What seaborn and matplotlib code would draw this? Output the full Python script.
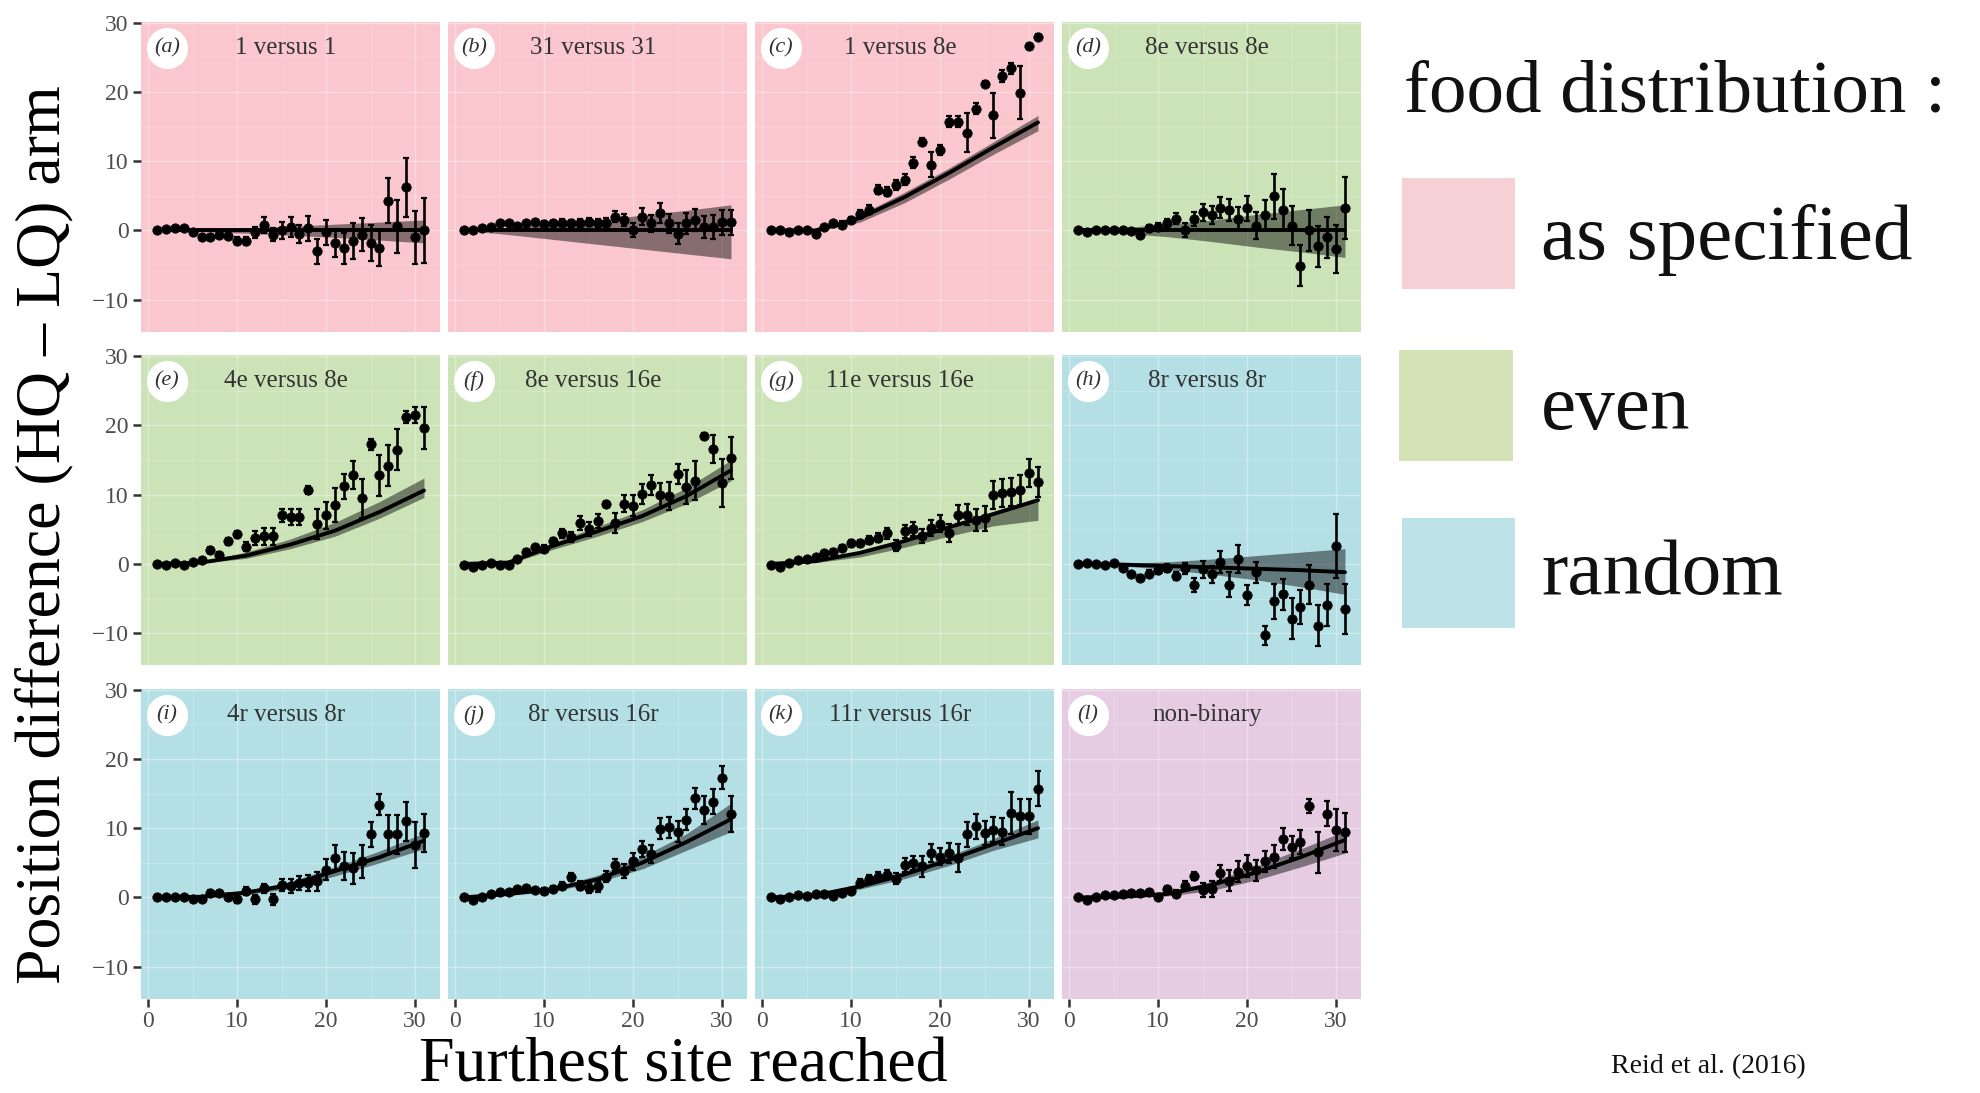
import matplotlib
matplotlib.use("Agg")
import matplotlib.pyplot as plt
from matplotlib.patches import Rectangle
import seaborn as sns

# ---------------- data ----------------
site = list(range(1, 32))            # furthest site reached (x of points)
fit_x = [1, 6, 11, 16, 21, 26, 31]  # x of model-fit knots

letters = ["a", "b", "c", "d", "e", "f", "g", "h", "i", "j", "k", "l"]
titles = ["1 versus 1", "31 versus 31", "1 versus 8e", "8e versus 8e",
          "4e versus 8e", "8e versus 16e", "11e versus 16e", "8r versus 8r",
          "4r versus 8r", "8r versus 16r", "11r versus 16r", "non-binary"]
distribution = ["as specified", "as specified", "as specified", "even",
                "even", "even", "even", "random",
                "random", "random", "random", "non-binary"]
legend_labels = ["as specified", "even", "random"]

a_mean = [0, 0.2, 0.4, 0.3, -0.3, -1.0, -1.0, -0.6, -0.8, -1.5, -1.5, -0.3, 0.8, -0.6, 0.0, 0.5,
          -0.5, 0.3, -3.0, -0.3, -1.8, -2.6, -1.5, -0.6, -1.8, -2.5, 4.3, 0.6, 6.2, -1.0, 0.0]
a_err = [0.2, 0.2, 0.2, 0.2, 0.3, 0.4, 0.4, 0.5, 0.5, 0.5, 0.6, 0.8, 1.2, 1.0, 1.2, 1.5,
         1.3, 1.8, 1.8, 1.8, 2.0, 2.2, 2.6, 2.4, 2.6, 2.6, 3.3, 3.8, 4.2, 3.8, 4.7]
a_fit = [0, 0, 0, 0, 0, 0, 0]
a_lo = [0, -0.2, -0.4, -0.7, -1.0, -1.4, -1.8]
a_hi = [0, 0.2, 0.4, 0.6, 0.9, 1.2, 1.5]

b_mean = [0, 0, 0.3, 0.5, 1.0, 1.0, 0.6, 1.0, 1.2, 0.9, 1.0, 1.1, 1.0, 1.1, 1.2, 1.0,
          1.1, 2.0, 1.5, 0.0, 2.0, 1.0, 2.5, 1.0, -0.5, 1.0, 1.5, 0.5, 0.5, 1.2, 1.2]
b_err = [0.1, 0.1, 0.2, 0.2, 0.2, 0.2, 0.3, 0.3, 0.3, 0.4, 0.4, 0.5, 0.5, 0.6, 0.6, 0.7,
         0.7, 0.8, 0.9, 1.0, 1.2, 1.2, 1.5, 1.4, 1.5, 1.5, 1.6, 1.6, 1.7, 1.8, 1.8]
b_fit = [0, 0, 0, 0, 0, 0, 0]
b_lo = [0, -0.6, -1.3, -2.0, -2.7, -3.4, -4.1]
b_hi = [0, 0.4, 0.9, 1.5, 2.2, 2.9, 3.7]

c_mean = [0, 0, -0.2, 0, 0.1, -0.5, 0.5, 1.0, 0.8, 1.5, 2.4, 3.0, 5.9, 5.6, 6.6, 7.3,
          9.8, 12.8, 9.5, 11.6, 15.7, 15.7, 14.1, 17.6, 21.2, 16.6, 22.3, 23.4, 19.9, 26.6, 28.0]
c_err = [0.2, 0.2, 0.2, 0.2, 0.2, 0.3, 0.3, 0.4, 0.5, 0.5, 0.6, 0.6, 0.6, 0.6, 0.7, 0.8,
         0.8, 0.5, 1.8, 0.7, 0.8, 0.8, 2.8, 0.8, 0.4, 3.2, 0.8, 0.8, 3.8, 0.3, 0.3]
c_fit = [0, 0, 1.8, 4.8, 8.3, 12.0, 15.6]
c_lo = [0, -0.2, 1.2, 4.0, 7.4, 11.0, 14.4]
c_hi = [0, 0.2, 2.3, 5.5, 9.0, 12.8, 16.6]

d_mean = [0, -0.3, 0, 0.1, 0, 0, -0.1, -0.6, 0.3, 0.5, 1.0, 1.7, 0.0, 1.7, 2.6, 2.2,
          3.3, 3.0, 1.7, 3.2, 0.7, 2.2, 4.9, 3.0, 0.7, -5.1, 0.0, -2.3, -1.0, -2.7, 3.2]
d_err = [0.1, 0.1, 0.2, 0.2, 0.2, 0.3, 0.3, 0.5, 0.5, 0.6, 0.7, 0.8, 1.0, 1.0, 1.2, 1.3,
         1.5, 1.6, 1.7, 1.8, 2.0, 2.2, 3.3, 3.0, 2.8, 3.0, 3.0, 3.0, 3.0, 3.5, 4.5]
d_fit = [0, 0, 0, 0, 0, 0, 0]
d_lo = [0, -0.4, -0.9, -1.6, -2.4, -3.1, -3.9]
d_hi = [0, 0.4, 0.9, 1.5, 2.3, 3.0, 3.7]

e_mean = [0, -0.2, 0.2, -0.1, 0.3, 0.5, 2.0, 1.3, 3.3, 4.3, 2.5, 3.8, 4.0, 4.0, 7.0, 6.8,
          6.8, 10.7, 5.8, 7.0, 8.5, 11.2, 12.8, 9.5, 17.3, 12.8, 14.2, 16.5, 21.2, 21.5, 19.6]
e_err = [0.1, 0.1, 0.2, 0.2, 0.2, 0.3, 0.4, 0.4, 0.5, 0.5, 0.6, 1.0, 1.2, 1.2, 1.0, 1.2,
         1.2, 0.6, 2.2, 2.0, 2.4, 1.8, 2.0, 2.8, 0.8, 3.0, 3.0, 3.0, 0.9, 1.2, 3.0]
e_fit = [0, 0.2, 1.2, 2.8, 4.8, 7.5, 10.6]
e_lo = [0, 0.1, 0.8, 2.2, 4.0, 6.6, 9.6]
e_hi = [0, 0.4, 1.7, 3.6, 6.0, 9.0, 12.4]

f_mean = [-0.1, -0.5, -0.1, 0.2, -0.1, -0.2, 0.7, 1.7, 2.4, 2.2, 3.3, 4.4, 3.9, 5.9, 5.0, 6.2,
          8.7, 5.9, 8.7, 8.4, 10.1, 11.4, 9.9, 9.8, 13.0, 11.1, 12.0, 18.5, 16.6, 11.7, 15.3]
f_err = [0.1, 0.1, 0.1, 0.2, 0.2, 0.2, 0.3, 0.4, 0.4, 0.5, 0.5, 0.6, 0.7, 1.0, 1.0, 1.0,
         0.4, 1.5, 1.2, 1.5, 1.5, 1.5, 1.8, 2.0, 1.5, 2.5, 2.8, 0.4, 2.0, 3.5, 3.0]
f_fit = [0, 0.2, 2.6, 4.7, 6.9, 9.8, 13.5]
f_lo = [0, 0.0, 2.1, 4.0, 6.1, 8.7, 12.0]
f_hi = [0, 0.4, 3.1, 5.4, 7.8, 11.0, 15.0]

g_mean = [-0.2, -0.4, 0.2, 0.5, 0.7, 1.0, 1.6, 1.7, 2.3, 3.0, 3.0, 3.5, 3.8, 4.4, 2.6, 4.7,
          5.0, 4.0, 5.2, 5.8, 4.5, 7.1, 7.1, 6.4, 6.6, 10.0, 10.2, 10.4, 10.7, 13.1, 11.8]
g_err = [0.1, 0.1, 0.2, 0.2, 0.2, 0.3, 0.3, 0.4, 0.4, 0.5, 0.5, 0.6, 0.7, 0.8, 0.8, 0.9,
         1.0, 1.0, 1.1, 1.2, 1.3, 1.4, 1.5, 1.6, 1.8, 2.0, 2.0, 2.0, 2.2, 2.0, 2.2]
g_fit = [0, 0.4, 1.6, 3.3, 5.3, 7.2, 9.2]
g_lo = [0, 0.2, 1.0, 2.4, 4.0, 5.5, 6.3]
g_hi = [0, 0.5, 1.8, 3.5, 5.6, 7.6, 9.6]

h_mean = [0, 0.1, 0, -0.1, 0.1, -0.6, -1.5, -2.0, -1.4, -0.9, -0.6, -1.7, -0.6, -3.0, -0.8, -1.5,
          0.3, -3.0, 0.7, -4.5, -1.2, -10.3, -5.4, -4.4, -7.9, -6.2, -3.0, -8.9, -5.9, 2.6, -6.5]
h_err = [0.1, 0.1, 0.1, 0.2, 0.2, 0.3, 0.4, 0.4, 0.5, 0.5, 0.6, 0.6, 0.8, 1.0, 1.2, 1.2,
         1.6, 1.8, 2.0, 1.5, 1.5, 1.4, 2.5, 2.2, 3.0, 2.5, 2.8, 3.0, 3.0, 4.6, 3.6]
h_fit = [0, -0.1, -0.3, -0.5, -0.7, -0.9, -1.2]
h_lo = [0, -0.3, -0.8, -1.5, -2.3, -3.3, -4.4]
h_hi = [0, 0.1, 0.3, 0.7, 1.2, 1.7, 2.2]

i_mean = [0, 0, 0, 0, -0.3, -0.3, 0.7, 0.6, 0.1, -0.3, 0.9, -0.3, 1.3, -0.3, 1.8, 1.6,
          2.1, 2.1, 2.3, 4.0, 5.7, 4.5, 4.2, 5.2, 9.1, 13.4, 9.1, 9.1, 11.0, 7.6, 9.3]
i_err = [0.1, 0.1, 0.1, 0.1, 0.2, 0.2, 0.3, 0.3, 0.4, 0.5, 0.6, 0.6, 0.7, 0.8, 0.9, 1.0,
         1.0, 1.2, 1.4, 1.5, 1.8, 2.0, 2.2, 2.4, 1.8, 1.5, 2.8, 2.8, 2.8, 3.3, 2.8]
i_fit = [0, 0.1, 0.7, 1.8, 3.8, 5.8, 8.2]
i_lo = [0, 0.0, 0.4, 1.3, 3.1, 5.0, 7.0]
i_hi = [0, 0.2, 1.0, 2.3, 4.4, 6.7, 9.3]

j_mean = [0, -0.4, 0.1, 0.5, 0.8, 0.8, 1.2, 1.3, 1.1, 0.9, 1.2, 1.7, 2.9, 1.7, 1.4, 1.6,
          3.0, 4.7, 3.8, 5.2, 7.0, 6.2, 9.9, 10.1, 9.5, 11.2, 14.3, 12.6, 13.8, 17.3, 12.1]
j_err = [0.1, 0.1, 0.1, 0.2, 0.2, 0.2, 0.3, 0.3, 0.3, 0.4, 0.4, 0.5, 0.6, 0.6, 0.7, 0.8,
         0.8, 0.9, 1.0, 1.2, 1.2, 1.3, 1.5, 1.5, 1.5, 1.5, 1.5, 2.0, 1.8, 1.7, 2.6]
j_fit = [0, 0.5, 1.2, 2.6, 5.0, 8.0, 11.3]
j_lo = [0, 0.3, 0.9, 2.2, 4.1, 6.8, 9.5]
j_hi = [0, 0.6, 1.4, 3.2, 5.9, 9.2, 13.6]

k_mean = [0, -0.3, 0.1, 0.4, 0.2, 0.5, 0.5, 0.2, 0.7, 0.9, 2.1, 2.6, 3.0, 3.3, 2.7, 4.7,
          5.0, 4.5, 6.4, 5.9, 6.4, 5.7, 9.1, 10.3, 9.3, 9.8, 9.5, 12.2, 11.7, 11.7, 15.7]
k_err = [0.1, 0.1, 0.1, 0.2, 0.2, 0.2, 0.3, 0.3, 0.4, 0.4, 0.5, 0.6, 0.6, 0.7, 0.8, 1.0,
         1.0, 1.5, 1.3, 1.2, 1.5, 2.0, 1.8, 1.8, 1.8, 1.8, 2.0, 3.0, 2.5, 2.5, 2.5]
k_fit = [0, 0.3, 1.6, 3.3, 5.4, 7.7, 10.0]
k_lo = [0, 0.1, 1.2, 2.7, 4.6, 6.8, 8.6]
k_hi = [0, 0.4, 1.9, 3.8, 6.0, 8.5, 11.2]

l_mean = [0, -0.4, 0.1, 0.4, 0.4, 0.5, 0.6, 0.6, 0.8, 0.0, 1.2, 0.5, 1.7, 3.1, 1.1, 1.2,
          3.5, 2.4, 3.7, 4.5, 3.9, 5.2, 5.9, 8.4, 7.3, 8.0, 13.2, 6.5, 12.1, 9.7, 9.4]
l_err = [0.1, 0.1, 0.1, 0.2, 0.2, 0.2, 0.3, 0.3, 0.3, 0.4, 0.4, 0.5, 0.6, 0.6, 1.0, 1.2,
         1.2, 1.5, 1.5, 1.6, 1.5, 1.5, 1.6, 1.6, 1.6, 1.8, 1.0, 3.0, 1.8, 3.0, 2.8]
l_fit = [0, 0.1, 0.5, 1.8, 3.6, 5.8, 8.3]
l_lo = [0, 0.0, 0.2, 1.0, 2.5, 4.4, 6.4]
l_hi = [0, 0.2, 0.8, 2.3, 4.5, 7.0, 9.6]

means = [a_mean, b_mean, c_mean, d_mean, e_mean, f_mean, g_mean, h_mean, i_mean, j_mean, k_mean, l_mean]
errs = [a_err, b_err, c_err, d_err, e_err, f_err, g_err, h_err, i_err, j_err, k_err, l_err]
fits = [a_fit, b_fit, c_fit, d_fit, e_fit, f_fit, g_fit, h_fit, i_fit, j_fit, k_fit, l_fit]
los = [a_lo, b_lo, c_lo, d_lo, e_lo, f_lo, g_lo, h_lo, i_lo, j_lo, k_lo, l_lo]
his = [a_hi, b_hi, c_hi, d_hi, e_hi, f_hi, g_hi, h_hi, i_hi, j_hi, k_hi, l_hi]

# ---------------- style ----------------
panel_bg = {"as specified": "#F9C7CD", "even": "#CBE3B7",
            "random": "#B3DFE5", "non-binary": "#E5CCE3"}
legend_bg = {"as specified": "#F5D0D4", "even": "#D4E3B7", "random": "#BDE2E8"}

sns.set_theme(style="white")
plt.rcParams["font.family"] = ["Liberation Serif", "DejaVu Serif"]

W, H = 1980, 1093
fig = plt.figure(figsize=(W / 100, H / 100), dpi=100)
fig.patch.set_facecolor("white")

col_left = [141, 448, 755, 1062]
row_top = [22, 355.5, 689]
pw, ph = 299, 309.5

for idx in range(12):
    r, c = divmod(idx, 4)
    ax = fig.add_axes([col_left[c] / W, 1 - (row_top[r] + ph) / H, pw / W, ph / H])
    ax.set_facecolor(panel_bg[distribution[idx]])
    for s in ax.spines.values():
        s.set_visible(False)
    ax.set_xlim(-0.8, 32.8)
    ax.set_ylim(-14.6, 30.1)
    # faint grid
    for gx in [0, 10, 20, 30]:
        ax.axvline(gx, color="white", alpha=0.35, lw=1.0, zorder=0)
    for gx in [5, 15, 25]:
        ax.axvline(gx, color="white", alpha=0.18, lw=0.7, zorder=0)
    for gy in [-10, 0, 10, 20, 30]:
        ax.axhline(gy, color="white", alpha=0.35, lw=1.0, zorder=0)
    for gy in [-5, 5, 15, 25]:
        ax.axhline(gy, color="white", alpha=0.18, lw=0.7, zorder=0)

    ax.fill_between(fit_x, los[idx], his[idx], color="black", alpha=0.45, lw=0, zorder=1)
    sns.lineplot(x=fit_x, y=fits[idx], ax=ax, color="black", lw=2.8, zorder=2)
    ax.errorbar(site, means[idx], yerr=errs[idx], fmt="none", ecolor="black",
                elinewidth=1.9, capsize=2.4, capthick=1.6, zorder=3)
    sns.scatterplot(x=site, y=means[idx], ax=ax, color="black", s=46,
                    edgecolor="black", linewidth=0.5, zorder=4)

    ax.set_xticks([0, 10, 20, 30])
    ax.set_yticks([-10, 0, 10, 20, 30])
    ax.set_xlabel("")
    ax.set_ylabel("")
    ax.tick_params(axis="both", length=6, width=1.8, color="#333333",
                   labelsize=17, labelcolor="#4D4D4D", pad=3)
    ax.tick_params(axis="y", left=(c == 0), labelleft=(c == 0))
    ax.tick_params(axis="x", bottom=(r == 2), labelbottom=(r == 2))
    ax.set_yticklabels(["\u221210", "0", "10", "20", "30"])

    # panel tag in white circle + title
    ax.scatter([0.087], [0.917], s=880, color="white", transform=ax.transAxes,
               zorder=5, clip_on=False, linewidths=0)
    ax.text(0.087, 0.917, f"({letters[idx]})", transform=ax.transAxes, ha="center",
            va="center", fontsize=16, style="italic", color="#333333", zorder=6)
    ax.text(0.485, 0.917, titles[idx], transform=ax.transAxes, ha="center",
            va="center", fontsize=18, color="#333333", zorder=6)

# axis titles
fig.text(44 / W, 1 - 535 / H, "Position difference (HQ \u2013 LQ) arm", rotation=90,
         ha="center", va="center", fontsize=46, color="black")
fig.text(683 / W, 1 - 1067 / H, "Furthest site reached", ha="center", va="center",
         fontsize=46, color="black")

# legend (manual)
fig.text(1404 / W, 1 - 111 / H, "food distribution :", ha="left", va="baseline",
         fontsize=54, color="#111111")
boxes = [(1402, 178, 1515, 289), (1399, 350, 1513, 461), (1402, 518, 1515, 628)]
baselines = [259, 429, 594]
for lab, (x0, y0, x1, y1), bl in zip(legend_labels, boxes, baselines):
    fig.patches.append(Rectangle((x0 / W, 1 - y1 / H), (x1 - x0) / W, (y1 - y0) / H,
                                 transform=fig.transFigure, facecolor=legend_bg[lab],
                                 edgecolor="none"))
    fig.text(1541 / W, 1 - bl / H, lab, ha="left", va="baseline", fontsize=57,
             color="#111111")

fig.text(1611 / W, 1 - 1067 / H, "Reid et al. (2016)", ha="left", va="center",
         fontsize=20, color="#111111")

fig.savefig("out.png", dpi=100, facecolor="white")
